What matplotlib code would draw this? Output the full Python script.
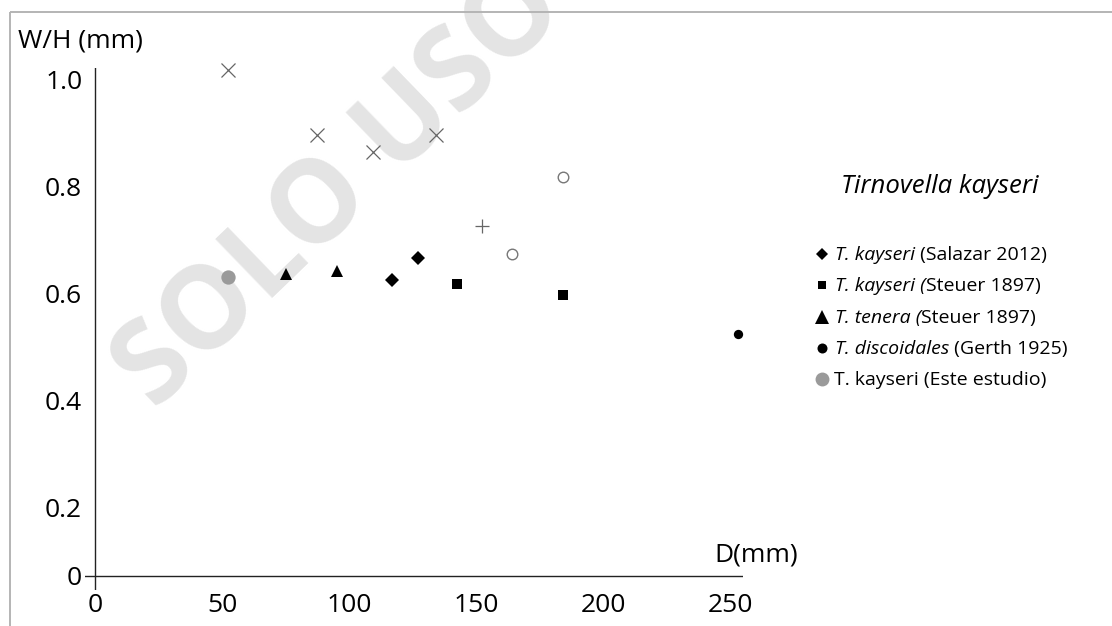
import numpy as np
import matplotlib
matplotlib.use("Agg")
import matplotlib.pyplot as plt
from matplotlib.lines import Line2D
from matplotlib.patches import Rectangle

plt.rcParams['font.family'] = ['Open Sans', 'DejaVu Sans']

# ---------------- data ----------------
salazar_x = [116.9, 127.2]
salazar_y = [0.626, 0.667]
steuer_kay_x = [142.5, 184.3]
steuer_kay_y = [0.619, 0.598]
tenera_x = [75.2, 95.3]
tenera_y = [0.637, 0.643]
gerth_x = [253.1]
gerth_y = [0.525]
este_x = [52.4]
este_y = [0.632]
cross_x = [52.4, 87.4, 109.4, 134.3]
cross_y = [1.019, 0.897, 0.865, 0.897]
plus_x = [152.4]
plus_y = [0.727]
ring_x = [184.3, 164.2]
ring_y = [0.819, 0.675]

x_ticks = [0, 50, 100, 150, 200, 250]
x_ticklabels = ['0', '50', '100', '150', '200', '250']
y_ticks = [0, 0.2, 0.4, 0.6, 0.8, 1.0]
y_ticklabels = ['0', '0.2', '0.4', '0.6', '0.8', '1.0']

legend_title = 'Tirnovella kayseri'
legend_italic = ['T. kayseri', 'T. kayseri (', 'T. tenera (', 'T. discoidales', '']
legend_regular = [' (Salazar 2012)', 'Steuer 1897)', 'Steuer 1897)', ' (Gerth 1925)',
                  'T. kayseri (Este estudio)']

# ---------------- figure ----------------
W, H = 1112, 626
fig = plt.figure(figsize=(W / 100, H / 100), dpi=100)


def fx(px):
    return px / W


def fy(py):
    return 1 - py / H


# frame
fig.add_artist(Rectangle((fx(10), fy(12)), 1.2, -1.2, transform=fig.transFigure,
                         fill=False, edgecolor='#b4b4b4', lw=1.4, clip_on=False))

# watermark
fig.text(fx(342), fy(190), 'SOLO USO', rotation=44, rotation_mode='anchor',
         ha='center', va='center', fontsize=82, fontweight='bold',
         color='#e4e4e4', zorder=-1)

ax = fig.add_axes([fx(85), fy(590), (743 - 85) / W, (590 - 68) / H])
ax.set_facecolor('none')

R = 68 / 107


def fwd(v):
    v = np.asarray(v, dtype=float)
    return np.where(v < 0.2, 0.2 - (0.2 - v) * R, v)


def inv(u):
    u = np.asarray(u, dtype=float)
    return np.where(u < 0.2, 0.2 - (0.2 - u) / R, u)


ax.set_yscale('function', functions=(fwd, inv))
ax.set_xlim(-3.94, 255.1)
ax.set_ylim(-0.0412, 1.0224)

for s in ax.spines.values():
    s.set_visible(False)
ax.axhline(0, color='#222222', lw=1.0, zorder=1)
ax.axvline(0, color='#222222', lw=1.0, zorder=1)

ax.set_xticks(x_ticks)
ax.set_xticklabels(x_ticklabels)
ax.set_yticks(y_ticks)
ax.set_yticklabels(y_ticklabels)
ax.yaxis.set_minor_locator(matplotlib.ticker.NullLocator())
ax.tick_params(axis='both', length=0, labelsize=19)
ax.tick_params(axis='x', pad=2)
ax.tick_params(axis='y', pad=2)

# data
kw = dict(ls='none', zorder=3, clip_on=False)
ax.plot(cross_x, cross_y, marker='x', ms=9.4, mew=0.9, color='#666666', **kw)
ax.plot(plus_x, plus_y, marker='+', ms=9.4, mew=0.9, color='#666666', **kw)
ax.plot(ring_x, ring_y, marker='o', ms=7.6, mew=1.0, mfc='white', mec='#777777', **kw)
ax.plot(este_x, este_y, marker='o', ms=10.3, color='#9a9a9a', mew=0, **kw)
ax.plot(tenera_x, tenera_y, marker='^', ms=9.2, color='black', mew=0, **kw)
ax.plot(salazar_x, salazar_y, marker='D', ms=7.0, color='black', mew=0, **kw)
ax.plot(steuer_kay_x, steuer_kay_y, marker='s', ms=7.8, color='black', mew=0, **kw)
ax.plot(gerth_x, gerth_y, marker='o', ms=6.7, color='black', mew=0, **kw)

# axis labels
fig.text(fx(18), fy(47), 'W/H (mm)', fontsize=19, va='baseline', ha='left')
fig.text(fx(714), fy(562), 'D(mm)', fontsize=19, va='baseline', ha='left')

# legend
fig.text(fx(841), fy(193), legend_title, fontsize=18.5, style='italic',
         va='baseline', ha='left')

leg_markers = [('D', 6.6, 'black'), ('s', 6.0, 'black'), ('^', 9.4, 'black'),
               ('o', 7.2, 'black'), ('o', 10.0, '#9a9a9a')]
baselines = [260, 291, 323, 354, 385]
for (m, ms, c), it, rg, b in zip(leg_markers, legend_italic, legend_regular, baselines):
    fig.add_artist(Line2D([fx(822)], [fy(b - 6.5)], transform=fig.transFigure,
                          marker=m, ms=ms, color=c, mew=0, ls='none'))
    if it:
        t1 = fig.text(fx(835), fy(b), it, fontsize=14, style='italic',
                      va='baseline', ha='left')
        ax.annotate(rg, xy=(1, 0), xycoords=t1, fontsize=14, va='bottom', ha='left',
                    annotation_clip=False)
    else:
        fig.text(fx(834), fy(b), rg, fontsize=14, va='baseline', ha='left')

fig.savefig('out.png', dpi=100)
